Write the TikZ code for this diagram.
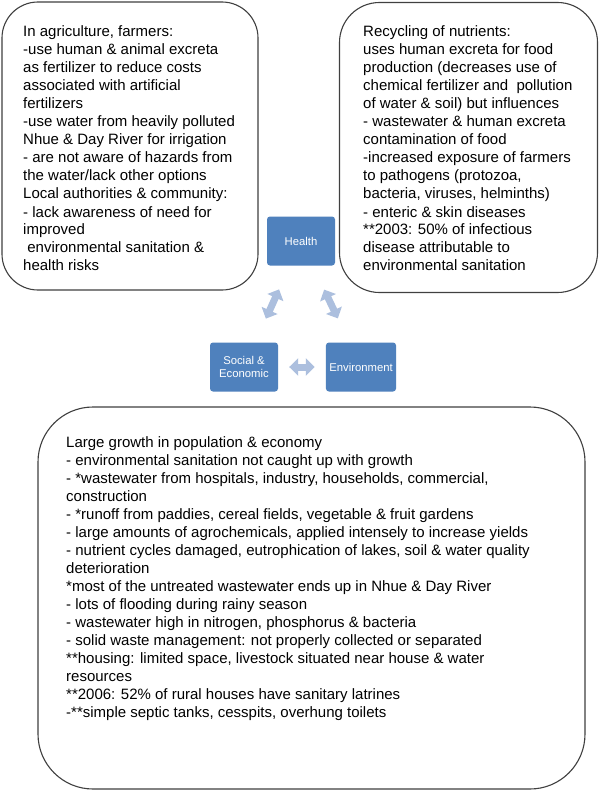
\documentclass[tikz,border=0pt]{standalone}
\usepackage{fontspec}
\setmainfont{Liberation Sans}
\usetikzlibrary{arrows.meta}

\definecolor{boxblue}{RGB}{79,129,189}
\definecolor{linkblue}{RGB}{172,191,222}
\definecolor{edgegray}{RGB}{64,64,64}

\newcommand{\notelines}[1]{\parbox[t]{520pt}{\raggedright\fontsize{15}{18}\selectfont #1}}

\tikzset{
  notebox/.style={draw=edgegray, line width=1.1pt, inner sep=0pt},
  notetext/.style={anchor=base west, inner sep=0pt},
  factor/.style={fill=boxblue, rounded corners=3pt, text=white,
    minimum width=68pt, minimum height=49pt, align=center,
    font=\fontsize{11.3}{13.5}\selectfont},
  link/.style={draw=linkblue, line width=7pt,
    {Triangle[width=17pt,length=9pt]}-{Triangle[width=17pt,length=9pt]}}
}

\begin{document}
\begin{tikzpicture}[x=1pt, y=-1pt, node distance=117pt]
      \useasboundingbox[fill=white] (0,0) rectangle (600,792);

      % the three factors
      \node (hea) [factor] at (301,241) {Health};
      \node (soc) [factor] at (244,367) {Social \&\\Economic};
      \node (env) [factor, right of=soc] {Environment};

      \draw [link, shorten <=26pt, shorten >=26pt] (soc) to (hea);
      \draw [link, shorten <=26.5pt, shorten >=26.5pt] (hea) to (env);
      \draw [link, shorten <=11pt, shorten >=11pt] (soc) to (env);

      % notes
      \node (farm) [notebox, rounded corners=36pt, minimum width=256pt, minimum height=288pt] at (130,146) {};
      \node (farmtext) [notetext] at ([shift={(-107pt,109pt)}]farm.center) {\notelines{In agriculture, farmers:\\
        -use human \& animal excreta\\
        as fertilizer to reduce costs\\
        associated with artificial\\
        fertilizers\\
        -use water from heavily polluted\\
        Nhue \& Day River for irrigation\\
        - are not aware of hazards from\\
        the water/lack other options\\
        Local authorities \& community:\\
        - lack awareness of need for\\
        improved\\
        \ environmental sanitation \&\\
        health risks}};

      \node (recy) [notebox, rounded corners=40pt, minimum width=258pt, minimum height=290pt] at (468.5,147.5) {};
      \node (recytext) [notetext] at ([shift={(-105.5pt,110.5pt)}]recy.center) {\notelines{Recycling of nutrients:\\
        uses human excreta for food\\
        production (decreases use of\\
        chemical fertilizer and\ \ pollution\\
        of water \& soil) but influences\\
        - wastewater \& human excreta\\
        contamination of food\\
        -increased exposure of farmers\\
        to pathogens (protozoa,\\
        bacteria, viruses, helminths)\\
        - enteric \& skin diseases\\
        {}**2003: 50\% of infectious\\
        disease attributable to\\
        environmental sanitation}};

      \node (growth) [notebox, rounded corners=55pt, minimum width=547pt, minimum height=382pt] at (311.5,598) {};
      \node (growthtext) [notetext] at ([shift={(-245.5pt,151pt)}]growth.center) {\notelines{Large growth in population \& economy\\
        - environmental sanitation not caught up with growth\\
        - *wastewater from hospitals, industry, households, commercial,\\
        construction\\
        - *runoff from paddies, cereal fields, vegetable \& fruit gardens\\
        - large amounts of agrochemicals, applied intensely to increase yields\\
        - nutrient cycles damaged, eutrophication of lakes, soil \& water quality\\
        deterioration\\
        {}*most of the untreated wastewater ends up in Nhue \& Day River\\
        - lots of flooding during rainy season\\
        - wastewater high in nitrogen, phosphorus \& bacteria\\
        - solid waste management: not properly collected or separated\\
        {}**housing: limited space, livestock situated near house \& water\\
        resources\\
        {}**2006: 52\% of rural houses have sanitary latrines\\
        -**simple septic tanks, cesspits, overhung toilets}};
      \end{tikzpicture}
\end{document}
